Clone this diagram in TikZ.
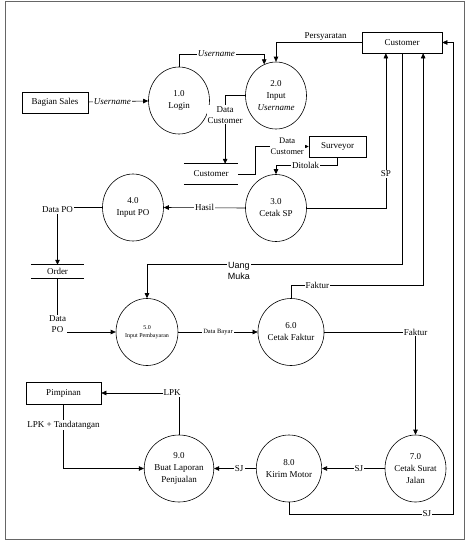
\documentclass[tikz,border=0pt]{standalone}
\usepackage{fontspec}
\setmainfont{Liberation Serif}
\newfontfamily\arialf{Liberation Sans}
\usetikzlibrary{arrows.meta,shapes.geometric,calc}
\begin{document}
\begin{tikzpicture}[x=1pt,y=-1pt,
  font=\fontsize{9}{12}\selectfont,
  proc/.style={draw, ellipse, minimum width=61pt, minimum height=67pt, inner sep=0pt, align=center, line width=0.6pt},
  ent/.style={draw, rectangle, inner sep=0pt, align=center, line width=0.6pt},
  store/.style={inner sep=0pt},
  flow/.style={draw, line width=0.6pt, -{Triangle[length=5pt,width=4.5pt]}},
  lbl/.style={fill=white, inner sep=1pt, align=center, font=\fontsize{9}{11}\selectfont},
  tiny/.style={font=\fontsize{6.5}{8}\selectfont}]
\useasboundingbox (0,0) rectangle (468,541);
\draw[line width=0.9pt, black!60] (5,1.5) rectangle (464,539);

% entities
\node[ent, minimum width=80pt, minimum height=21pt] (cust) at (402,42.5) {Customer};
\node[ent, minimum width=57pt, minimum height=21pt] (surv) at (337.5,146.5) {Surveyor};
\node[ent, minimum width=66pt, minimum height=21pt] (sales) at (55,102.5) {Bagian Sales};
\node[ent, minimum width=75pt, minimum height=22pt] (pimp) at (63.5,393) {Pimpinan};

% processes
\node[proc] (p1) at (179,100.5) {1.0\\Login};
\node[proc] (p2) at (276,95.5) {2.0\\Input\\\textit{Username}};
\node[proc] (p3) at (276,208) {3.0\\Cetak SP};
\node[proc] (p4) at (133,207.5) {4.0\\Input PO};
\node[proc, font=\fontsize{6}{8}\selectfont] (p5) at (147,332) {5.0\\Input Pembayaran};
\node[proc] (p6) at (291,332) {6.0\\Cetak Faktur};
\node[proc] (p7) at (415.5,468.5) {7.0\\Cetak Surat\\Jalan};
\node[proc] (p8) at (289,468.5) {8.0\\Kirim Motor};
\node[proc] (p9) at (179,468.5) {9.0\\Buat Laporan\\Penjualan};

% data stores
\node[store, minimum width=54pt, minimum height=20pt] (dsc) at (211,174) {Customer};
\draw[line width=1.2pt] (dsc.north west) -- (dsc.north east);
\draw[line width=0.9pt] (dsc.south west) -- (dsc.south east);
\node[store, minimum width=53pt, minimum height=13pt] (dso) at (57.5,271.5) {Order};
\draw[line width=1.2pt] (dso.north west) -- (dso.north east);
\draw[line width=0.9pt] (dso.south west) -- (dso.south east);

% helper coordinates
\coordinate (k1) at (264.2,54);
\coordinate (k3) at (255,174);
\coordinate (cSP) at ($(cust.south west)!0.3!(cust.south east)$);
\coordinate (cFk) at ($(cust.south west)!0.7625!(cust.south east)$);
\coordinate (dIn) at ($(dsc.north west)!0.76!(dsc.north east)$);
\coordinate (k19) at (453,514);

% flows
\draw[flow] (sales) -- node[lbl, pos=0.4]{\textit{Username}} (p1);
\draw[flow] (p1.north) |- node[lbl, pos=0.72]{\textit{Username}} (k1) -- (k1 |- p2.111);
\draw[flow] (cust.west) -| node[above, inner sep=1.5pt, pos=0.21]{Persyaratan} (p2.north);
\draw[flow] (p2.west) -| node[lbl, pos=0.64]{Data\\Customer} (dIn);
\draw[flow] (dsc.east) -- (k3) |- node[lbl, pos=0.8, font=\fontsize{8.5}{10.5}\selectfont]{Data\\Customer} (surv.west);
\draw[flow] (surv.south) -- ++(0,8) -| node[lbl, pos=0.26]{Ditolak} (p3.north);
\draw[flow] (p3.east) -| node[lbl, pos=0.61]{SP} (cSP);
\draw[flow] (p3.west) -- node[lbl]{Hasil} (p4.east);
\draw[flow] (p4.west) -| node[lbl, pos=0.52]{Data PO} (dso.north);
\draw[flow] (dso.south) |- node[lbl, pos=0.43]{Data\\PO} (p5.west);
\draw[flow] (cust.south) -- ++(0,210.5) -| node[lbl, pos=0.32, yshift=-7pt, font=\arialf\fontsize{9}{11}\selectfont]{Uang\\Muka} (p5.north);
\draw[flow] (p6.north) -- ++(0,-13) -| node[lbl, pos=0.1]{Faktur} (cFk);
\draw[flow] (p5.east) -- node[lbl, tiny]{Data Bayar} (p6.west);
\draw[flow] (p6.east) -| node[lbl, pos=0.5]{Faktur} (p7.north);
\draw[flow] (p7.west) -- node[lbl, pos=0.41]{SJ} (p8.east);
\draw[flow] (p8.west) -- node[lbl, pos=0.4]{SJ} (p9.east);
\draw[flow] (p9.north) |- node[lbl, pos=0.545]{LPK} (pimp.east);
\draw[flow] (pimp.south) |- node[lbl, pos=0.16]{LPK + Tandatangan} (p9.west);
\draw[flow] (p8.south) |- node[lbl, pos=0.92]{SJ} (k19) |- (cust.east);
\end{tikzpicture}
\end{document}
